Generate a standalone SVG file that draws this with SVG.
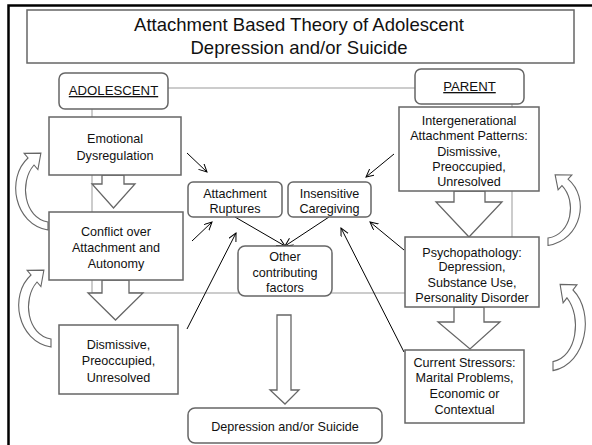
<svg xmlns="http://www.w3.org/2000/svg" width="592" height="445" viewBox="0 0 592 445">
<defs>
<style>
.box{fill:#fff;stroke:#666;stroke-width:1.5}
.t{font-family:"Liberation Sans",Arial,sans-serif;font-size:12.6px;fill:#111;text-anchor:middle}
.hd{font-size:13.2px}
.title{font-family:"Liberation Sans",Arial,sans-serif;font-size:18.5px;fill:#111;text-anchor:middle}
.grey{fill:none;stroke:#999;stroke-width:1}
.blk{fill:#fff;stroke:#666;stroke-width:1.3}
.thin{fill:none;stroke:#000;stroke-width:1;marker-end:url(#ah)}
.curve{fill:#fff;stroke:#666;stroke-width:1.1}
</style>
<marker id="ah" markerWidth="10" markerHeight="10" refX="8" refY="4" orient="auto" markerUnits="userSpaceOnUse">
<path d="M0,0 L8,4 L0,8" fill="none" stroke="#000" stroke-width="1"/>
</marker>
<path id="carrow" d="M48 230 C14 224 6 178 28 158 L24.1 153.4 L40.9 153.1 L37.9 169.6 L34 165 C19 182 24 218 48 222 Z"/>
</defs>
<rect x="0" y="0" width="592" height="445" fill="#fff"/>
<path d="M8.5 445 V5.5 H592" fill="none" stroke="#000" stroke-width="2.5"/>

<g id="connectors">
<path class="grey" d="M168 88 H415"/>
<path class="grey" d="M92 109 V293 H512 V104"/>
<path class="blk" d="M102 175 V184 H92 L113.5 208 L135 184 H124 V175 Z"/>
<path class="blk" d="M102 280 V293 H88 L115.5 320 L143 293 H129 V280 Z"/>
<path class="blk" d="M454 191 V202 H436 L469 237 L502 202 H485 V191 Z"/>
<path class="blk" d="M454 307 V322 H438 L470 349 L500 322 H484 V307 Z"/>
<path class="blk" d="M277 315 V390 H270 L285 404 L299 390 H291 V315 Z"/>
<use href="#carrow" class="curve"/>
<use href="#carrow" class="curve" transform="translate(3,117)"/>
<use href="#carrow" class="curve" transform="translate(596,33.8) scale(-1,0.92)"/>
<use href="#carrow" class="curve" transform="translate(601,113) scale(-1,1.12)"/>
<path class="thin" d="M187 153 L207 172"/>
<path class="thin" d="M192 241 L212 222"/>
<path class="thin" d="M187 329 L236 233"/>
<path class="thin" d="M394 154 L366 177"/>
<path class="thin" d="M404 250 L370 222"/>
<path class="thin" d="M404 352 L341 228"/>
<path class="thin" d="M235 217 L285 246"/>
<path class="thin" d="M329 217 L285 246"/>
</g>

<g id="title">
<rect class="box" x="27" y="10" width="547" height="53"/>
<text class="title" x="299" y="31">Attachment Based Theory of Adolescent</text>
<text class="title" x="299" y="54">Depression and/or Suicide</text>
</g>

<g id="adolescent">
<rect class="box" x="59" y="73" width="109" height="36" rx="6"/>
<text class="t hd" x="113.5" y="95" text-decoration="underline">ADOLESCENT</text>
</g>
<g id="parent">
<rect class="box" x="415" y="69" width="109" height="35" rx="6"/>
<text class="t hd" x="469.5" y="91" text-decoration="underline">PARENT</text>
</g>

<g id="emotional">
<rect class="box" x="49" y="117" width="132" height="58"/>
<text class="t" x="115" y="142.5">Emotional</text>
<text class="t" x="115" y="159.5">Dysregulation</text>
</g>
<g id="conflict">
<rect class="box" x="49" y="212" width="134" height="68"/>
<text class="t" x="116" y="235.5">Conflict over</text>
<text class="t" x="116" y="251.5">Attachment and</text>
<text class="t" x="116" y="267.5">Autonomy</text>
</g>
<g id="dismissive-adolescent">
<rect class="box" x="59" y="325" width="119" height="69"/>
<text class="t" x="118.5" y="348.5">Dismissive,</text>
<text class="t" x="118.5" y="364.5">Preoccupied,</text>
<text class="t" x="118.5" y="381.5">Unresolved</text>
</g>

<g id="ruptures">
<rect class="box" x="188" y="182" width="94" height="35" rx="5"/>
<text class="t" x="235" y="197.5">Attachment</text>
<text class="t" x="235" y="212.5">Ruptures</text>
</g>
<g id="caregiving">
<rect class="box" x="288" y="182" width="83" height="35" rx="5"/>
<text class="t" x="329.5" y="197.5">Insensitive</text>
<text class="t" x="329.5" y="212.5">Caregiving</text>
</g>
<g id="other">
<rect class="box" x="238" y="246" width="94" height="50" rx="7"/>
<text class="t" x="285" y="260.5">Other</text>
<text class="t" x="285" y="276.5">contributing</text>
<text class="t" x="285" y="292">factors</text>
</g>
<g id="outcome">
<rect class="box" x="188" y="408" width="194" height="35" rx="7"/>
<text class="t" x="285" y="430.5">Depression and/or Suicide</text>
</g>

<g id="intergenerational">
<rect class="box" x="399" y="107" width="140" height="84"/>
<text class="t" x="469" y="124.5">Intergenerational</text>
<text class="t" x="469" y="139.5">Attachment Patterns:</text>
<text class="t" x="469" y="156">Dismissive,</text>
<text class="t" x="469" y="170.5">Preoccupied,</text>
<text class="t" x="469" y="185.5">Unresolved</text>
</g>
<g id="psychopathology">
<rect class="box" x="405" y="237" width="134" height="70"/>
<text class="t" x="472" y="256.5">Psychopathology:</text>
<text class="t" x="472" y="270.5">Depression,</text>
<text class="t" x="472" y="286.5">Substance Use,</text>
<text class="t" x="472" y="302">Personality Disorder</text>
</g>
<g id="stressors">
<rect class="box" x="405" y="350" width="119" height="73"/>
<text class="t" x="464.5" y="366.5">Current Stressors:</text>
<text class="t" x="464.5" y="381.5">Marital Problems,</text>
<text class="t" x="464.5" y="397.5">Economic or</text>
<text class="t" x="464.5" y="413.5">Contextual</text>
</g>
</svg>
